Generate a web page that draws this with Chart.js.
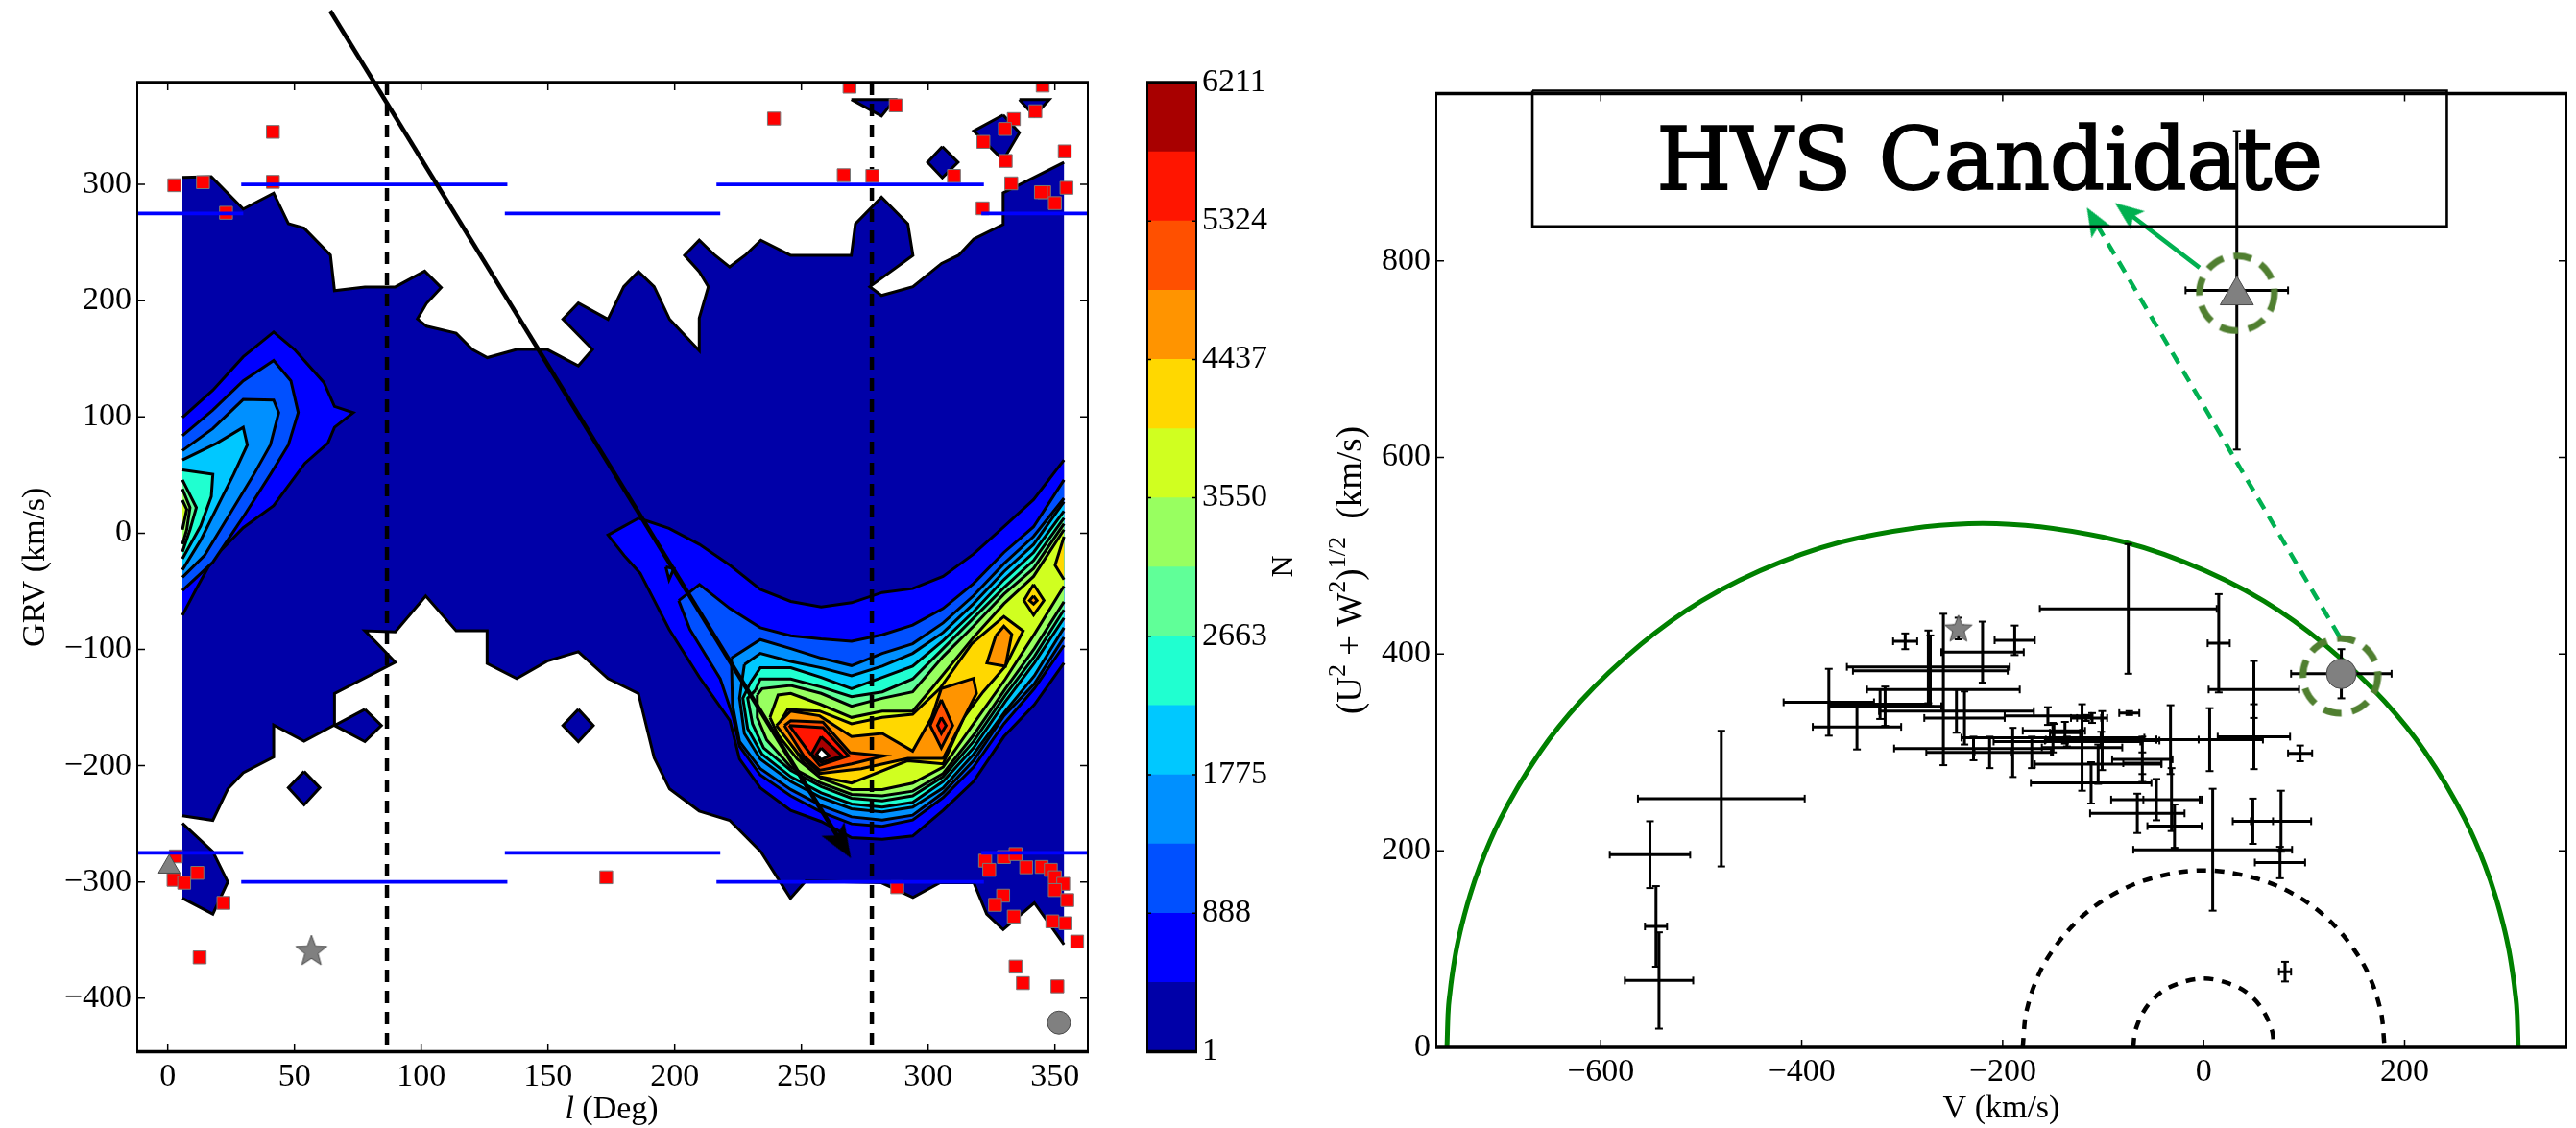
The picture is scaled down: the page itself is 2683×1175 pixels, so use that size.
<!DOCTYPE html>
<html>
<head>
<meta charset="utf-8">
<title>HVS candidate</title>
<script src="https://cdn.jsdelivr.net/npm/chart.js@4/dist/chart.umd.min.js"></script>
<style>
    html, body { margin: 0; background: #fff; overflow: hidden; }
    canvas { position: absolute; top: 0; }
</style>
</head>
<body>
<canvas id="mapChart" width="1150" height="1175" style="left:0"></canvas>
<canvas id="barChart" width="210" height="1175" style="left:1150px"></canvas>
<canvas id="velChart" width="1323" height="1175" style="left:1360px"></canvas>
<script>
// ---- Colour bar values
const levelEdges = [1, 444.6, 888, 1332, 1775, 2219, 2663, 3107, 3550, 3993, 4437, 4881, 5324, 5767, 6211];
const levelColors = ['#0000a8', '#0000ff', '#0050ff', '#0090ff', '#00c8ff', '#20ffd0', '#60ff98', '#98ff60',
                     '#d0ff20', '#ffd800', '#ff9400', '#ff5000', '#ff1500', '#a80000'];
const barTicks = [1, 888, 1775, 2663, 3550, 4437, 5324, 6211];

// ---- Left panel ticks
const lTicks = [0, 50, 100, 150, 200, 250, 300, 350];
const grvTicks = [-400, -300, -200, -100, 0, 100, 200, 300];

// ---- Contour outlines, [l, GRV]
const level1Main = [[5.8,306],[17.2,306.6],[29.8,278.8],[41.8,292.4],[47.6,266.2],[53.8,262.4],[64.2,239.3],[65.8,208.6],
    [77.8,211.8],[89.8,211.8],[101.4,225.4],[107.9,211.2],[102.1,197.6],[98.5,184.3],[102.1,178],[113.8,172],[120.2,158],
    [126.1,151],[137.7,158],[149.7,158],[162,144],[167.6,158],[155.9,184],[162,198],[173.7,184],[179.9,212],[185.7,225],
    [191.9,212],[198,184],[209.7,157],[209.7,185],[213.3,212],[209.7,225],[203.9,239],[209.7,252],[215.9,239],[221.7,229],
    [227.8,239],[234,252],[245.7,239],[269.7,239],[271.3,266],[281.6,289],[292,266],[294,239],[277,212],[281.6,204.5],
    [294,212],[305.3,232],[312,239],[318,253],[329.6,265.5],[329.6,292.7],[353.6,319],
    [353.6,-353.8],[341.9,-318],[329.6,-341],[323.1,-327.6],[318,-300.7],[304.7,-300.7],[294,-313.3],[281.6,-300.7],
    [251.8,-299],[245.7,-314],[234,-274],[221.7,-247],[209.7,-239],[198,-220],[191.9,-193],[185.7,-138],[173.7,-125],
    [162,-102],[149.7,-110],[137.7,-125],[126,-112],[126,-84],[113.8,-84],[101.8,-54],[89.8,-85],[77.8,-84],[89.8,-111],
    [65.8,-138],[65.8,-165],[53.8,-179],[41.8,-165],[41.8,-192.6],[29.8,-206],[23.7,-220],[17.8,-247],[5.8,-243]];
const level1Corner = [[5.8,-249.5],[17.8,-274],[23.7,-300],[17.8,-327.6],[5.8,-314]];
const level1IsleA = [[77.8,-151.5],[84.3,-165.4],[77.8,-179.3],[65.8,-165.4]];
const level1IsleB = [[53.8,-205],[60,-219],[53.8,-233.7],[47.6,-219]];
const level1IsleC = [[162,-151.5],[167.9,-165.4],[162,-179.3],[155.9,-165.4]];
const level1IsleD = [[305.6,332.5],[311.8,319],[305.6,305.7],[299.8,319]];
const level1IsleE = [[329.6,359.7],[336,344.5],[329.6,320.8],[318,346]];
const level1IsleF = [[269.7,373],[286.8,373],[281.6,358.8]];
const level1IsleG = [[336,373],[347.8,373],[341.9,358.8]];

const level2Left = [[5.8,99.6],[17.8,123],[29.8,151.7],[41.8,173],[50,158],[61.6,129.6],[65.8,109],[73.2,103.7],[65.8,91],
    [63.2,77.4],[54.1,60],[41.8,23.7],[29.8,4.7],[17.8,-22],[11.3,-47.8],[5.8,-70.6]];
const level2Right = [[185.8,12.9],[197.8,4.1],[209.8,-9.7],[221.8,-27.6],[233.8,-48.3],[245.8,-58.7],[257.8,-63.4],[269.8,-59.8],
    [281.9,-51],[293.9,-47.7],[305.9,-37.2],[317.9,-18],[329.9,5.5],[341.6,28.9],[353.6,63],[353.6,-111.7],[341.9,-147.5],
    [329.9,-175],[317.9,-213.6],[305.9,-238.4],[293.9,-260.5],[281.9,-263.2],[269.8,-261.9],[257.8,-248],[245.8,-238.4],
    [233.8,-219],[225.6,-194.3],[221.8,-161.3],[209.8,-124],[197.8,-82.7],[186.4,-34.5],[180.1,-19.3],[173.7,-1.6]];

const level3Left = [[5.8,83.8],[17.8,106],[29.8,131],[41.8,148.6],[48.6,131],[51.5,103.7],[47.6,75.9],[40.5,50.6],[29.8,14],[17.8,-25],[5.8,-49.4]];
const level3Right = [[201.6,-58],[209.8,-44.1],[221.8,-64.8],[233.8,-81.3],[245.8,-88.2],[257.8,-91],[269.8,-93],[281.9,-87.4],
    [293.9,-79.1],[305.9,-64.8],[317.9,-43.3],[329.9,-16.6],[341.6,5.5],[353.6,45.8],[353.6,-96.5],[341.9,-133.7],[329.9,-164],
    [317.9,-201.2],[305.9,-227.4],[293.9,-246.7],[281.9,-252.2],[269.8,-250],[257.8,-239.8],[245.8,-226],[233.8,-208],
    [225.6,-183.3],[223.1,-158.5],[218,-125.4],[206,-82.7]];
const level3Speck = [[196.5,-29],[199.7,-30.4],[197.8,-40]];

const level4Left = [[5.8,71],[17.8,90],[29.8,115],[41.8,114.4],[43.8,103.7],[40.5,75.9],[34,50.6],[24.3,15.8],[14.6,-19],[5.8,-38]];
const level4Right = [[222.4,-107.5],[233.8,-91.5],[245.8,-99.3],[257.8,-107.5],[269.8,-113.9],[281.9,-103.4],[293.9,-95.1],
    [305.9,-77.2],[317.9,-53.8],[329.9,-26.2],[341.6,-2.8],[353.6,30],[353.6,-89.6],[341.9,-129.6],[329.9,-157.1],[317.9,-195.7],
    [305.9,-223.3],[293.9,-242.6],[281.9,-246.7],[269.8,-244],[257.8,-234.3],[245.8,-220.5],[233.8,-202.6],[225.6,-179.2],[222.8,-147.5]];

const level5Left = [[5.8,63],[19.4,77.4],[29.8,91],[31.4,75.9],[26,50.6],[19.4,22],[13,-6],[5.8,-31.6]];
const level5Right = [[227.5,-113],[233.8,-103.4],[245.8,-110.3],[257.8,-115.8],[269.8,-122.7],[281.9,-114.4],[293.9,-103.4],
    [305.9,-85.5],[317.9,-60.7],[329.9,-33.1],[341.6,-9.7],[353.6,27],[353.6,-81.3],[341.9,-122.7],[330.5,-153],[317.9,-190.2],
    [305.9,-219.1],[293.9,-235.7],[281.9,-239.8],[269.8,-237.1],[257.8,-227.4],[245.8,-213.6],[233.8,-194.3],[227.5,-172.3],[225.6,-142]];

const level6Left = [[5.8,54.4],[17.8,50.6],[17.2,31.6],[13,6.3],[5.8,-22]];
const level6Right = [[230,-128.2],[233.8,-115.8],[245.8,-115.8],[257.8,-124.1],[269.8,-133.7],[281.9,-124.1],[293.9,-114.4],
    [305.9,-92.4],[317.9,-67.6],[329.9,-40],[341.6,-16.6],[353.6,19],[353.6,-73],[341.9,-111.7],[330.5,-144.7],[317.9,-184.7],
    [305.9,-213.6],[293.9,-231.5],[281.9,-235.7],[269.8,-232.9],[257.8,-223.3],[245.8,-209.5],[234.5,-190.2],[228.8,-168.2],[226.9,-142]];

const level7Left = [[5.8,45.8],[11.3,22],[8.8,3],[5.8,-16]];
const level7Right = [[231.9,-135],[233.8,-125.4],[245.8,-125.4],[257.8,-132.3],[269.8,-140.6],[281.9,-136.5],[293.9,-125.4],
    [305.9,-99.3],[317.9,-73.1],[329.9,-46.9],[341.6,-23.5],[353.6,13],[353.6,-66],[341.9,-106.1],[330.5,-139.2],[317.9,-179.2],
    [305.9,-209.5],[293.9,-226],[281.9,-230.2],[269.8,-228],[257.8,-218],[245.8,-204],[235.1,-184.7],[230.7,-164],[228.8,-142]];

const level8Left = [[5.8,38],[8.8,22],[7.5,3],[5.8,-9.5]];
const level8Right = [[232.6,-139.2],[234.5,-133.7],[245.8,-131],[257.8,-137.8],[269.8,-148.9],[281.9,-142],[293.9,-136.5],
    [305.9,-106.1],[317.9,-80],[329.9,-52.4],[341.6,-30.4],[353.6,8],[353.6,-59],[341.9,-99.3],[330.5,-133.7],[317.9,-173.7],
    [305.9,-206.7],[293.9,-221.9],[281.9,-226],[269.8,-224.7],[257.8,-215],[245.8,-201.2],[236.3,-177.8],[232.6,-158.5]];

const level9Left = [[5.8,28.4],[7.5,20.5],[5.8,3]];
const level9Right = [[237.6,-158.5],[240.8,-139.2],[245.8,-137.8],[257.8,-147.5],[269.8,-158.5],[281.9,-153],[293.9,-153],
    [301.4,-133.7],[317.9,-89.6],[329.9,-60.7],[341.6,-37.2],[353.6,3],[353.6,-45.5],[341.9,-86.9],[330.5,-125.4],[317.9,-164],
    [305.9,-201.2],[293.9,-215],[281.9,-220.5],[269.8,-220.5],[257.8,-210.9],[248.4,-194.3],[240.8,-173.7]];

const level10Main = [[240.8,-165.4],[244.6,-151.6],[257.2,-153],[269.8,-164],[281.9,-158.5],[293.9,-155.8],[304.6,-133.7],
    [317.2,-95.1],[329.9,-71.7],[337.5,-84.1],[330.5,-114.4],[321.7,-136.5],[314.1,-158.5],[305.9,-198.5],[292,-195.7],
    [269.8,-215],[257.2,-209.5],[250.9,-197.1]];
const level10Edge = [[353.6,-3],[350.1,-27.6],[353.6,-40]];
const level10Isle = [[341.6,-44.1],[345.7,-57.9],[341.6,-70.3],[337.8,-57.9]];

const level11Main = [[240.1,-165.4],[245.8,-153],[257.2,-157.1],[269.8,-175],[281.9,-172.3],[293.9,-187.4],[301.4,-158.5],
    [305.2,-133.7],[317.9,-124.9],[319.1,-137.8],[311.6,-169.5],[305.9,-193.8],[292,-193.8],[273.6,-202.6],[257.2,-206.7],[248.4,-188.8]];
const level11Isle = [[326.7,-88.2],[329.9,-80],[333,-86.9],[330.5,-114.4],[323.2,-111.7]];
const level11Dot = [[341.6,-54],[343,-58],[341.6,-61],[340,-58]];

const level12Main = [[243.3,-165.4],[245.8,-161.3],[258.5,-162.6],[269.2,-188.8],[282.5,-191.6],[269.8,-198.5],[257.2,-204],[250.9,-191.6]];
const level12Isle = [[305.2,-143.3],[309.7,-165.4],[305.2,-184.7],[300.8,-165.4]];
const level13Main = [[245.2,-165.4],[258.5,-167.3],[268.6,-191.6],[257.2,-199.8],[252.2,-186.1]];
const level13Isle = [[305.2,-158.5],[307.1,-165.4],[305.2,-172.3],[303.7,-165.4]];
const level14Main = [[257.8,-175],[266,-191.6],[257.8,-197.1],[254,-190.2]];
const peakHole = [[257.8,-184.7],[261,-191.6],[257.8,-194.9],[256,-190.2]];

// ---- Stars on the left panel
const redL = [2.6,13.9,23,41.5,41.5,239.2,269,287.2,266.7,278,310.2,333.8,330.3,342.3,345.2,321.8,353.9,330.6,332.8,345.8,344.5,354.6,350,321.5,
              3.2,2.3,6.5,11.7,22,12.6,173,287.8,322.5,324.1,329.9,334.5,329.6,326.4,333.8,338.7,344.8,348.4,350,353.3,350,354.9,349,354.2,358.8,334.5,337.4,351];
const redGrv = [299.3,301.9,275.6,345.2,302.2,356.6,384,368,307.9,307.3,307.3,356.2,347.7,362.9,385,336.6,328.4,320.2,300.9,293.3,293.3,297.1,283.9,279.4,
                -278,-298.2,-300.7,-292.2,-318,-364.9,-296,-304.5,-281.7,-289.6,-278.6,-276,-311.8,-319.7,-329.8,-287.4,-287.1,-289.6,-296,-301.6,-307,-315.6,-333.9,-335.5,-351.3,-372.8,-387,-389.8];
const trianglePoint = [0.6, -287];
const starPoint = [56.7, -359];
const circlePoint = [351.6, -421];

// ---- Lines on the left panel
const dashedL = [86.5, 277.8];
const blueLow = [[-12, 29.8], [133, 218], [321, 363]];
const blueHigh = [[29, 134], [216.5, 322]];
const blueAbs = [275, 300];
const fallArrow = [[64.1, 449.3], [266, -267]];

// ---- Right panel
const vTicks = [-600, -400, -200, 0, 200];
const speedTicks = [0, 200, 400, 600, 800];
const crossV = [-75,15,50,50,6,96,-188,-220,-259,-297,-274,-272,-373,-322,-317,-345,-246,-238,-155,-117,-111,-101,-74,-121,-229,-213,
                -150,-190,-171,-149,-138,-136,-102,-105,-61,-61,-112,-33,-47,-66,-29,-32,9,49,77,76,-480,-551,-545,-542,81,33,137,-244];
const crossSpeed = [446,411,364,316,313,299,414,402,364,413,387,383,351,349,347,326,342,335,337,335,335,312,340,305,304,300,
                    315,300,300,322,320,311,313,288,293,289,269,313,252,238,225,252,201,230,230,188,253,196,123,68,77,770,380,426];
const crossVErr = [88,11,45,36,53,12,20,41,76,12,81,77,45,50,56,44,77,40,43,15,15,57,10,40,79,63,
                   91,38,20,31,15,73,55,63,30,19,60,28,45,47,27,28,79,20,30,25,83,40,11,34,6,51,50,5];
const crossSpeedErr = [66,50,29,33,32,8,15,31,77,8,37,36,34,15,20,23,22,27,9,3,5,30,2,44,12,16,
                       15,25,16,7,11,5,8,20,23,11,21,35,21,20,22,32,62,23,31,16,69,34,41,49,10,162,25,11];
const escapeV = [-753,-752,-750,-745,-740,-730,-720,-700,-660,-620,-560,-500,-420,-340,-220,-100,-20,60,120,180,220,260,280,290,300,305,310,312,313];
const escapeSpeed = [0,33,56,92,117,155,185,232,301,352,410,454,494,519,533,519,494,454,410,352,301,232,185,155,117,92,56,33,0];
const bulgeV = [-180,-178,-175,-165,-150,-120,-80,-40,0,40,80,120,150,165,175,178,180];
const bulgeSpeed = [0,26,42,72,99,134,161,175,180,175,161,134,99,72,42,26,0];
const coreV = [-70,-69,-67,-60,-45,-25,0,25,45,60,67,69,70];
const coreSpeed = [0,12,20,36,54,65,70,65,54,36,20,12,0];
const hvsTriangle = [33, 765];
const hvsCircle = [137, 380];
const hvsStar = [-244, 426];
const ringCentres = [[33, 767], [136, 378]];
const solidArrow = [[-4, 793], [-76.9, 850]];
const dashArrow = [[135, 418], [-109, 841.7]];
const candidateBox = [[-668, 973], [242, 973], [242, 835], [-668, 835], [-668, 973]];

const SERIF = '"Liberation Serif", serif';
const EDGE_L = [5.8, 353.6];

// Marker images for shapes Chart.js has no style for
function starImage(size) {
    const c = document.createElement('canvas');
    c.width = c.height = size;
    const g = c.getContext('2d');
    const r = size / 2 - 1;
    g.beginPath();
    for (let i = 0; i < 10; i++) {
        const rad = i % 2 ? r * 0.42 : r;
        const a = i * Math.PI / 5;
        g.lineTo(size / 2 + Math.sin(a) * rad, size / 2 + 1 - Math.cos(a) * rad);
    }
    g.closePath();
    g.fillStyle = '#808080';
    g.fill();
    g.strokeStyle = '#4a4a4a';
    g.lineWidth = 1;
    g.stroke();
    return c;
}

function ringImage(size) {
    const c = document.createElement('canvas');
    c.width = c.height = size;
    const g = c.getContext('2d');
    g.strokeStyle = '#507f30';
    g.lineWidth = 7;
    g.setLineDash([19, 11]);
    g.beginPath();
    g.arc(size / 2, size / 2, size / 2 - 4, 0, Math.PI * 2);
    g.stroke();
    return c;
}

// Barbed arrow head, pointing up, tip on the top edge
function headImage(w, h, color) {
    const c = document.createElement('canvas');
    c.width = w;
    c.height = h;
    const g = c.getContext('2d');
    g.fillStyle = color;
    g.beginPath();
    g.moveTo(w / 2, 0);
    g.lineTo(w, h);
    g.lineTo(w / 2, h * 0.78);
    g.lineTo(0, h);
    g.closePath();
    g.fill();
    return c;
}

// One contour polygon: a fill, then its outline with the cut ends of l left open
function contour(points, color) {
    const closed = points.concat([points[0]]);
    const outline = [];
    closed.forEach(([x, y], i) => {
        if (i > 0 && x === closed[i - 1][0] && EDGE_L.includes(x)) outline.push({ x: NaN, y: NaN });
        outline.push({ x, y });
    });
    return [{
        data: closed.map(([x, y]) => ({ x, y })),
        showLine: true,
        fill: 'shape',
        backgroundColor: color,
        borderWidth: 0,
        pointRadius: 0
    }, {
        data: outline,
        showLine: true,
        spanGaps: false,
        borderColor: '#000',
        borderWidth: 3,
        pointRadius: 0
    }];
}

function lineSet(points, color, width, dash) {
    return {
        data: points.map(([x, y]) => ({ x, y })),
        showLine: true,
        borderColor: color,
        borderWidth: width,
        borderDash: dash || [],
        pointRadius: 0,
        tension: 0
    };
}

function marker(point, style, radius) {
    return {
        data: [{ x: point[0], y: point[1] }],
        pointStyle: style,
        pointRadius: radius,
        pointBackgroundColor: '#808080',
        pointBorderColor: '#4a4a4a',
        pointBorderWidth: 1,
        clip: false
    };
}

function arrow(points, color, width, dash, head, rotation) {
    const ds = lineSet(points, color, width, dash);
    ds.clip = false;
    ds.pointStyle = head;
    ds.pointRadius = [0, head.height / 2];
    ds.pointRotation = rotation;
    return ds;
}

// Inward ticks on all four sides and the frame, thick at top and bottom
const framePlugin = {
    id: 'frame',
    afterDraw(chart) {
        const { ctx, chartArea: a, scales } = chart;
        ctx.save();
        ctx.strokeStyle = '#000';
        ctx.lineWidth = 1.5;
        const len = chart.options.plugins.frame.tick;
        ctx.beginPath();
        if (scales.x && scales.x.options.display) {
            scales.x.ticks.forEach(t => {
                const px = scales.x.getPixelForValue(t.value);
                ctx.moveTo(px, a.top); ctx.lineTo(px, a.top + len);
                ctx.moveTo(px, a.bottom); ctx.lineTo(px, a.bottom - len);
            });
        }
        scales.y.ticks.forEach(t => {
            const py = scales.y.getPixelForValue(t.value);
            ctx.moveTo(a.left, py); ctx.lineTo(a.left + len, py);
            ctx.moveTo(a.right, py); ctx.lineTo(a.right - len, py);
        });
        ctx.stroke();
        ctx.lineWidth = 2;
        ctx.beginPath();
        ctx.moveTo(a.left, a.top); ctx.lineTo(a.left, a.bottom);
        ctx.moveTo(a.right, a.top); ctx.lineTo(a.right, a.bottom);
        ctx.stroke();
        ctx.lineWidth = 3.5;
        ctx.beginPath();
        ctx.moveTo(a.left - 1, a.top); ctx.lineTo(a.right + 1, a.top);
        ctx.moveTo(a.left - 1, a.bottom); ctx.lineTo(a.right + 1, a.bottom);
        ctx.stroke();
        ctx.restore();
    }
};

// Text runs with italics or raised pieces, which axis titles cannot do
function drawRuns(ctx, runs, x, y, rotate) {
    ctx.save();
    ctx.translate(x, y);
    if (rotate) ctx.rotate(-Math.PI / 2);
    ctx.fillStyle = '#000';
    ctx.textBaseline = 'middle';
    ctx.textAlign = 'left';
    const fontOf = r => `${r.italic ? 'italic ' : ''}${r.size || 34}px ${SERIF}`;
    let total = 0;
    runs.forEach(r => { ctx.font = fontOf(r); total += ctx.measureText(r.text).width; });
    let cur = -total / 2;
    runs.forEach(r => {
        ctx.font = fontOf(r);
        ctx.fillText(r.text, cur, r.raise ? -r.raise : 0);
        cur += ctx.measureText(r.text).width;
    });
    ctx.restore();
}

function scaleBase(min, max, ticks, fit) {
    return {
        type: 'linear',
        min,
        max,
        grid: { display: false, drawTicks: false },
        border: { display: false },
        ticks: {
            color: '#000',
            padding: 6,
            font: { family: SERIF, size: 34 },
            maxRotation: 0,
            autoSkip: false,
            callback: v => String(v).replace('-', '\u2212')
        },
        afterBuildTicks: s => { s.ticks = ticks.map(value => ({ value })); },
        afterFit: fit
    };
}

const baseOptions = {
    responsive: false,
    devicePixelRatio: 1,
    animation: false,
    events: [],
    plugins: { legend: { display: false }, tooltip: { enabled: false }, frame: { tick: 8 } }
};

// Left panel: GRV against l
function initMapChart() {
    const layers = [];
    const levels = [
        [level1Main, level1Corner, level1IsleA, level1IsleB, level1IsleC, level1IsleD, level1IsleE, level1IsleF, level1IsleG],
        [level2Left, level2Right],
        [level3Left, level3Right, level3Speck],
        [level4Left, level4Right],
        [level5Left, level5Right],
        [level6Left, level6Right],
        [level7Left, level7Right],
        [level8Left, level8Right],
        [level9Left, level9Right],
        [level10Main, level10Edge, level10Isle],
        [level11Main, level11Isle, level11Dot],
        [level12Main, level12Isle],
        [level13Main, level13Isle],
        [level14Main]
    ];
    levels.forEach((polys, i) => polys.forEach(p => layers.push(...contour(p, levelColors[i]))));
    layers.push(...contour(peakHole, '#ffffff'));

    dashedL.forEach(l => layers.push(lineSet([[l, 387.6], [l, -446]], '#000', 4.5, [13, 9])));
    layers.push({
        data: redL.map((x, i) => ({ x, y: redGrv[i] })),
        pointStyle: 'rect',
        pointRadius: 9.5,
        pointBackgroundColor: '#ff0000',
        pointBorderColor: '#777',
        pointBorderWidth: 1
    });
    blueAbs.forEach((g, i) => {
        const spans = i === 0 ? blueLow : blueHigh;
        spans.forEach(([a, b]) => {
            layers.push(lineSet([[a, g], [b, g]], '#0000ff', 3.8));
            layers.push(lineSet([[a, -g], [b, -g]], '#0000ff', 3.8));
        });
    });
    layers.push(marker(trianglePoint, 'triangle', 13));
    layers.push(marker(starPoint, starImage(36), 16));
    layers.push(marker(circlePoint, 'circle', 12));
    layers.push(arrow(fallArrow, '#000', 4.5, [], headImage(28, 36, '#000'), 148.5));

    new Chart(document.getElementById('mapChart'), {
        type: 'scatter',
        data: { datasets: layers.reverse() },
        options: {
            ...baseOptions,
            layout: { autoPadding: false, padding: { top: 86, right: 17 } },
            scales: {
                x: scaleBase(-12, 363, lTicks, s => { s.height = 79.5; }),
                y: {
                    ...scaleBase(-446, 387.6, grvTicks, s => { s.width = 143; }),
                    title: { display: true, text: 'GRV (km/s)', color: '#000', font: { family: SERIF, size: 34 }, padding: { top: 17, bottom: 0 } }
                }
            }
        },
        plugins: [framePlugin, {
            id: 'lLabel',
            afterDraw(chart) {
                drawRuns(chart.ctx, [{ text: 'l', italic: true }, { text: ' (Deg)' }], 637, 1156);
            }
        }]
    });
}

// Colour bar: one floating bar per contour level
function initBarChart() {
    const datasets = levelColors.map((color, i) => ({
        data: [[levelEdges[i], levelEdges[i + 1]]],
        backgroundColor: color,
        borderWidth: 0,
        barPercentage: 1,
        categoryPercentage: 1,
        grouped: false
    }));
    const yScale = scaleBase(1, 6211, barTicks, s => { s.width = 114; });
    yScale.position = 'right';
    new Chart(document.getElementById('barChart'), {
        type: 'bar',
        data: { labels: ['N'], datasets },
        options: {
            ...baseOptions,
            plugins: { ...baseOptions.plugins, frame: { tick: 4 } },
            layout: { autoPadding: false, padding: { top: 86, left: 45, bottom: 79.5 } },
            scales: {
                x: { type: 'category', display: false, offset: true },
                y: yScale
            }
        },
        plugins: [framePlugin, {
            id: 'nLabel',
            afterDraw(chart) {
                drawRuns(chart.ctx, [{ text: 'N', size: 32 }], 188, 590, true);
            }
        }]
    });
}

// Right panel: speed against V
function initVelChart() {
    const hBars = [];
    const vBars = [];
    crossV.forEach((v, i) => {
        const s = crossSpeed[i];
        hBars.push({ x: v - crossVErr[i], y: s }, { x: v + crossVErr[i], y: s }, { x: NaN, y: NaN });
        vBars.push({ x: v, y: s - crossSpeedErr[i] }, { x: v, y: s + crossSpeedErr[i] }, { x: NaN, y: NaN });
    });
    const barSet = (data, rotation) => ({
        data,
        showLine: true,
        spanGaps: false,
        borderColor: '#000',
        borderWidth: 3,
        pointStyle: 'line',
        pointRadius: 4,
        pointRotation: rotation,
        pointBorderColor: '#000',
        pointBorderWidth: 2,
        clip: false
    });
    const zipped = (xs, ys) => xs.map((x, i) => [x, ys[i]]);
    const ring = {
        data: ringCentres.map(([x, y]) => ({ x, y })),
        pointStyle: ringImage(86),
        pointRadius: 38
    };
    const layers = [
        lineSet(zipped(escapeV, escapeSpeed), '#008000', 5),
        lineSet(zipped(bulgeV, bulgeSpeed), '#000', 4.5, [10, 9]),
        lineSet(zipped(coreV, coreSpeed), '#000', 4.5, [10, 9]),
        barSet(hBars, 90),
        barSet(vBars, 0),
        marker(hvsStar, starImage(32), 16),
        marker(hvsTriangle, 'triangle', 20),
        marker(hvsCircle, 'circle', 15.5),
        ring,
        arrow(solidArrow, '#00b050', 4.5, [], headImage(24, 30, '#00b050'), -52.7),
        arrow(dashArrow, '#00b050', 4.5, [13, 9], headImage(24, 30, '#00b050'), -30.4),
        Object.assign(lineSet(candidateBox, '#000', 2.6), { clip: false })
    ];
    [layers[0], layers[1], layers[2]].forEach(ds => { ds.cubicInterpolationMode = 'monotone'; });

    new Chart(document.getElementById('velChart'), {
        type: 'scatter',
        data: { datasets: layers.reverse() },
        options: {
            ...baseOptions,
            layout: { autoPadding: false, padding: { top: 97.6, right: 10 } },
            scales: {
                x: {
                    ...scaleBase(-763.6, 361, vTicks, s => { s.height = 84; }),
                    title: { display: true, text: 'V (km/s)', color: '#000', font: { family: SERIF, size: 34 }, padding: { top: 0, bottom: 0 } }
                },
                y: scaleBase(0, 970, speedTicks, s => { s.width = 136; })
            }
        },
        plugins: [framePlugin, {
            id: 'velText',
            afterDraw(chart) {
                const { ctx, scales } = chart;
                ctx.save();
                ctx.fillStyle = '#000';
                ctx.strokeStyle = '#000';
                ctx.lineWidth = 2;
                ctx.font = '89px "DejaVu Serif", serif';
                ctx.textAlign = 'center';
                ctx.textBaseline = 'middle';
                const px = scales.x.getPixelForValue(-213);
                const py = scales.y.getPixelForValue(896);
                ctx.fillText('HVS Candidate', px, py);
                ctx.strokeText('HVS Candidate', px, py);
                ctx.restore();
                drawRuns(ctx, [
                    { text: '(U', size: 37 }, { text: '2', size: 26, raise: 14 }, { text: ' + W', size: 37 }, { text: '2', size: 26, raise: 14 },
                    { text: ')', size: 37 }, { text: '1/2', size: 26, raise: 14 }, { text: '  (km/s)', size: 37 }
                ], 48, 594, true);
            }
        }]
    });
}

document.addEventListener('DOMContentLoaded', () => {
    initMapChart();
    initBarChart();
    initVelChart();
});
</script>
</body>
</html>
